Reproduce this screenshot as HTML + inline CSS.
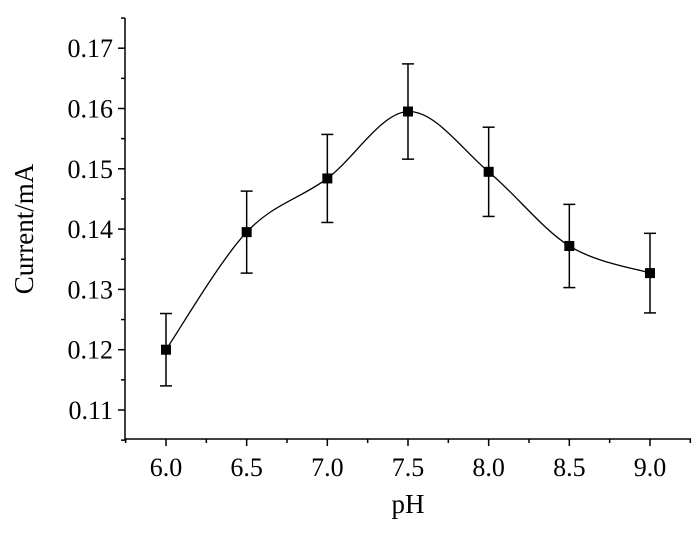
<!DOCTYPE html>
<html><head><meta charset="utf-8"><style>
body{margin:0;background:#fff}
svg text{font-family:"Liberation Serif","Times New Roman",Times,serif;fill:#000}
</style></head><body>
<svg id="c" width="700" height="528" xmlns="http://www.w3.org/2000/svg"></svg>
<script>
const categories=[6.0,6.5,7.0,7.5,8.0,8.5,9.0];
const values=[0.1200,0.1395,0.1484,0.1595,0.1495,0.1372,0.1327];
const errors=[0.0060,0.0068,0.0073,0.0079,0.0074,0.0069,0.0066];
const xTicks=["6.0","6.5","7.0","7.5","8.0","8.5","9.0"];
const yTicks=["0.11","0.12","0.13","0.14","0.15","0.16","0.17"];
const svg=document.getElementById('c');
const NS='http://www.w3.org/2000/svg';
const X=v=>166+(v-6)*161.33;
const Y=v=>410-(v-0.11)*6030;
function el(t,a,p){const e=document.createElementNS(NS,t);for(const k in a)e.setAttribute(k,a[k]);(p||svg).appendChild(e);return e;}
const axes=el('g',{stroke:'#000','stroke-width':1.5,fill:'none'});


el('path',{d:`M125 18V439H691`},axes);
for(let v=5.75;v<=9.26;v+=0.25){const big=Math.abs(v*2-Math.round(v*2))<1e-6&&v>=6&&v<=9;el('line',{x1:X(v),x2:X(v),y1:439,y2:439+(big?7:4)},axes);}
for(let v=0.105;v<=0.1751;v+=0.005){const big=Math.abs(v*100-Math.round(v*100))<1e-6;el('line',{x1:125,x2:125-(big?7:4),y1:Y(v),y2:Y(v)},axes);}
xTicks.forEach(t=>{const e=el('text',{x:X(parseFloat(t)),y:476,'font-size':26,'text-anchor':'middle'});e.textContent=t;

});
yTicks.forEach(t=>{const e=el('text',{x:113,y:Y(parseFloat(t))+9,'font-size':26,'text-anchor':'end'});e.textContent=t;

});
const xt=el('text',{x:408,y:513,'font-size':27,'text-anchor':'middle'});xt.textContent='pH';


const yt=el('text',{x:0,y:0,'font-size':27,'text-anchor':'middle',transform:'translate(33,229) rotate(-90)'});yt.textContent='Current/mA';


const pts=categories.map((c,i)=>[X(c),Y(values[i])]);
let d=`M${pts[0][0]},${pts[0][1]}`;
for(let i=0;i<pts.length-1;i++){const p0=pts[i-1]||pts[i],p1=pts[i],p2=pts[i+1],p3=pts[i+2]||p2;
d+=`C${p1[0]+(p2[0]-p0[0])/6},${p1[1]+(p2[1]-p0[1])/6} ${p2[0]-(p3[0]-p1[0])/6},${p2[1]-(p3[1]-p1[1])/6} ${p2[0]},${p2[1]}`;}
const line=el('path',{d,stroke:'#000','stroke-width':1.3,fill:'none'});


categories.forEach((c,i)=>{const x=X(c),y1=Y(values[i]+errors[i]),y2=Y(values[i]-errors[i]);
const g=el('g',{stroke:'#000','stroke-width':1.5});


el('line',{x1:x,x2:x,y1,y2},g);el('line',{x1:x-6,x2:x+6,y1:y1,y2:y1},g);el('line',{x1:x-6,x2:x+6,y1:y2,y2:y2},g);
const m=el('rect',{x:x-5,y:Y(values[i])-5,width:10,height:10,fill:'#000'});

});
</script>
</body></html>
